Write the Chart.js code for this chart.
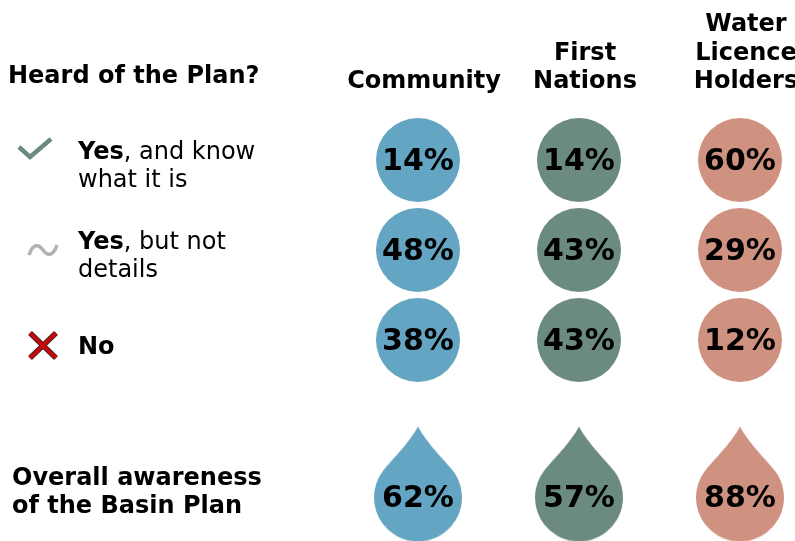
<!DOCTYPE html>
<html>
<head>
<meta charset="utf-8">
<script src="https://cdn.jsdelivr.net/npm/chart.js@4.4.1/dist/chart.umd.min.js"></script>
<style>
  html, body { margin: 0; padding: 0; background: #fff; }
  #wrap { width: 795px; height: 541px; position: relative; }
</style>
</head>
<body>
<div id="wrap"><canvas id="awareness"></canvas></div>
<script>
// Survey values (%), rows: Yes & know / Yes but not details / No / Overall awareness
const community = [14, 48, 38, 62];
const firstNations = [14, 43, 43, 57];
const licenceHolders = [60, 29, 12, 88];

const groupHeaders = [['Community'], ['First', 'Nations'], ['Water', 'Licence', 'Holders']];
const answerBold = ['Yes', 'Yes', 'No'];
const answerRest = [', and know', ', but not', ''];
const answerLine2 = ['what it is', 'details', ''];
const questionTitle = 'Heard of the Plan?';
const overallLabel = ['Overall awareness', 'of the Basin Plan'];

const COLORS = ['#63a5c2', '#6c8b7f', '#cf9180'];
const ROW_POS = [0, 1, 2, 3.75];
const FONT = '"DejaVu Sans", Verdana, sans-serif';

/** Water-drop point style, round part centred on the point */
function makeDrop(color) {
  const r = 44, tip = 71;
  const c = document.createElement('canvas');
  c.width = 2 * r + 4;
  c.height = 2 * tip + 2;
  const g = c.getContext('2d');
  const cx = c.width / 2, cy = c.height / 2;
  const a = 0.66;
  const px = r * Math.cos(a), py = -r * Math.sin(a);
  const dx = -Math.sin(a), dy = -Math.cos(a);
  const k = 12;
  g.fillStyle = color;
  g.beginPath();
  g.moveTo(cx, cy - tip);
  g.bezierCurveTo(cx + 9, cy - 54, cx + px + dx * k, cy + py + dy * k, cx + px, cy + py);
  g.arc(cx, cy, r, -a, Math.PI + a, false);
  g.bezierCurveTo(cx - px - dx * k, cy + py + dy * k, cx - 9, cy - 54, cx, cy - tip);
  g.closePath();
  g.fill();
  return c;
}

const drops = COLORS.map(makeDrop);

const labelPlugin = {
  id: 'labels',
  afterDatasetsDraw(chart) {
    const { ctx, scales } = chart;
    ctx.save();
    ctx.fillStyle = '#000';

    // percentages
    ctx.font = 'bold 30px ' + FONT;
    ctx.textAlign = 'center';
    ctx.textBaseline = 'middle';
    chart.data.datasets.forEach((ds, di) => {
      chart.getDatasetMeta(di).data.forEach((el, i) => {
        ctx.fillText(ds.data[i].v + '%', el.x, el.y + 2);
      });
    });

    // column headers
    ctx.font = 'bold 24px ' + FONT;
    ctx.textBaseline = 'alphabetic';
    groupHeaders.forEach((lines, gi) => {
      const x = scales.x.getPixelForValue(gi) + 6;
      lines.forEach((t, li) => {
        ctx.fillText(t, x, 88 - (lines.length - 1 - li) * 28.5);
      });
    });

    // left labels
    ctx.textAlign = 'left';
    ctx.fillText(questionTitle, 8, 83);
    const ov = scales.y.getPixelForValue(ROW_POS[3]);
    ctx.fillText(overallLabel[0], 12, ov - 13);
    ctx.fillText(overallLabel[1], 12, ov + 15);

    answerBold.forEach((b, i) => {
      const y = scales.y.getPixelForValue(ROW_POS[i]);
      const base = answerLine2[i] ? y - 1 : y + 14;
      ctx.font = 'bold 24px ' + FONT;
      ctx.fillText(b, 78, base);
      const w = ctx.measureText(b).width;
      ctx.font = '24px ' + FONT;
      ctx.fillText(answerRest[i], 78 + w, base);
      if (answerLine2[i]) ctx.fillText(answerLine2[i], 78, base + 28);
    });

    // icons
    ctx.lineCap = 'butt';
    ctx.lineJoin = 'miter';
    let y = scales.y.getPixelForValue(ROW_POS[0]);
    ctx.strokeStyle = '#6c8b7f';
    ctx.lineWidth = 4.5;
    ctx.beginPath();
    ctx.moveTo(19, y - 13);
    ctx.lineTo(30, y - 3);
    ctx.lineTo(51, y - 21);
    ctx.stroke();

    y = scales.y.getPixelForValue(ROW_POS[1]);
    ctx.strokeStyle = '#b3b3b3';
    ctx.lineWidth = 3.5;
    ctx.beginPath();
    ctx.moveTo(29, y + 5);
    ctx.bezierCurveTo(33, y - 7, 39, y - 6, 43, y);
    ctx.bezierCurveTo(47, y + 6, 53, y + 7, 57, y - 5);
    ctx.stroke();

    y = scales.y.getPixelForValue(ROW_POS[2]);
    [['#4a2020', 5.5], ['#c8090b', 3.5]].forEach(([col, lw]) => {
      ctx.strokeStyle = col;
      ctx.lineWidth = lw;
      ctx.beginPath();
      ctx.moveTo(30, y - 7);
      ctx.lineTo(56, y + 18);
      ctx.moveTo(56, y - 7);
      ctx.lineTo(30, y + 18);
      ctx.stroke();
    });

    ctx.restore();
  },
};

const series = [community, firstNations, licenceHolders];
const datasets = series.map((vals, gi) => ({
  label: groupHeaders[gi].join(' '),
  data: vals.map((v, ri) => ({ x: gi, y: ROW_POS[ri], v })),
  backgroundColor: COLORS[gi],
  borderWidth: 0,
  pointRadius: 42,
  pointStyle: ctx => (ctx.dataIndex === 3 ? drops[gi] : 'circle'),
}));

new Chart(document.getElementById('awareness'), {
  type: 'scatter',
  data: { datasets },
  options: {
    responsive: true,
    maintainAspectRatio: false,
    animation: false,
    events: [],
    layout: { padding: 0, autoPadding: false },
    plugins: { legend: { display: false }, tooltip: { enabled: false } },
    scales: {
      x: { type: 'linear', display: false, min: -418 / 161, max: (795 - 418) / 161 },
      y: { type: 'linear', display: false, reverse: true, min: -160 / 90, max: (541 - 160) / 90 },
    },
  },
  plugins: [labelPlugin],
});
</script>
</body>
</html>
